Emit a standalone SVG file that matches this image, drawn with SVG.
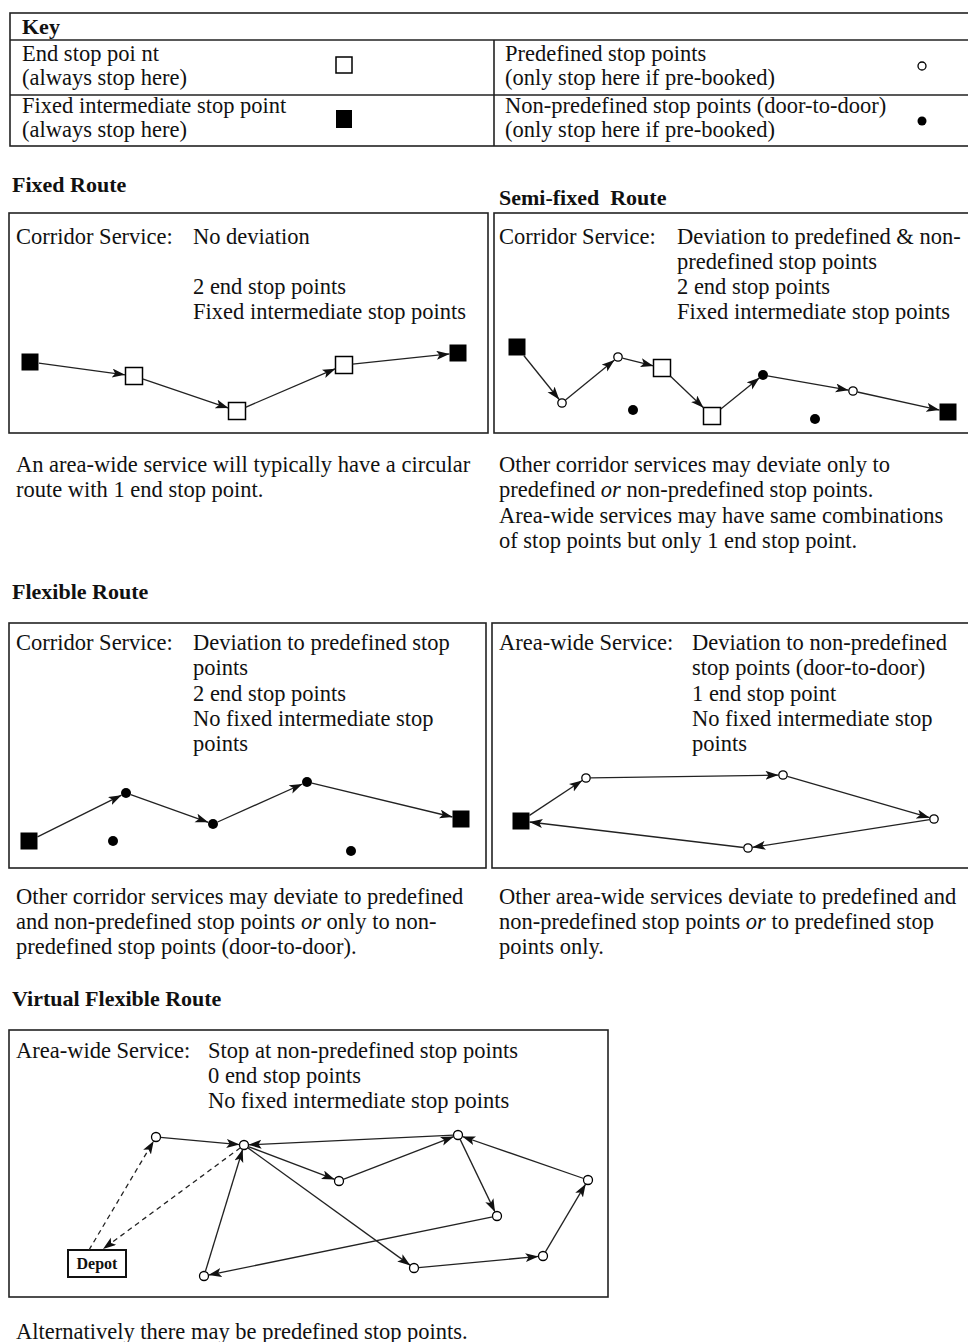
<svg xmlns="http://www.w3.org/2000/svg" width="968" height="1342" viewBox="0 0 968 1342">
<style>
text{font-family:"Liberation Serif","Times New Roman",serif;font-size:22.5px;fill:#111}
.b{font-weight:bold;font-size:22px}
.i{font-style:italic}
.box{fill:none;stroke:#222;stroke-width:1.6}
.e{stroke:#222;stroke-width:1.3;fill:none}
.d{stroke:#222;stroke-width:1.3;fill:none;stroke-dasharray:5 4}
.fs{fill:#000}
.os{fill:#fff;stroke:#000;stroke-width:1.5}
.oc{fill:#fff;stroke:#000;stroke-width:1.3}
.fc{fill:#000}
</style>
<defs>
<marker id="ah" markerUnits="userSpaceOnUse" markerWidth="14" markerHeight="10" refX="13" refY="4.5" orient="auto">
<path d="M0,0 L13,4.5 L0,9 L3,4.5 z" fill="#111"/>
</marker>
</defs>
<rect width="968" height="1342" fill="#fff"/>

<g id="key">
<rect class="box" x="10" y="13" width="970" height="133"/>
<line class="box" x1="10" y1="40" x2="968" y2="40"/>
<line class="box" x1="10" y1="95" x2="968" y2="95"/>
<line class="box" x1="494" y1="40" x2="494" y2="146"/>
<text class="b" x="22" y="34">Key</text>
<text x="22" y="61">End stop poi nt</text>
<text x="22" y="85">(always stop here)</text>
<rect class="os" x="336" y="57" width="16" height="16"/>
<text x="22" y="113">Fixed intermediate stop point</text>
<text x="22" y="137">(always stop here)</text>
<rect class="fs" x="336" y="110" width="16" height="18"/>
<text x="505" y="61">Predefined stop points</text>
<text x="505" y="85">(only stop here if pre-booked)</text>
<circle class="oc" cx="922" cy="66" r="4"/>
<text x="505" y="113">Non-predefined stop points (door-to-door)</text>
<text x="505" y="137">(only stop here if pre-booked)</text>
<circle class="fc" cx="922" cy="121" r="4.5"/>
</g>

<g id="fixed-route">
<text class="b" x="12" y="192">Fixed Route</text>
<rect class="box" x="9" y="213" width="479" height="220"/>
<text x="16" y="244">Corridor Service:</text>
<text x="193" y="244">No deviation</text>
<text x="193" y="294">2 end stop points</text>
<text x="193" y="319">Fixed intermediate stop points</text>
<rect class="fs" x="21.5" y="353.5" width="17" height="17"/>
<rect class="os" x="125.5" y="367.5" width="17" height="17"/>
<rect class="os" x="228.5" y="402.5" width="17" height="17"/>
<rect class="os" x="335.5" y="356.5" width="17" height="17"/>
<rect class="fs" x="449.5" y="344.5" width="17" height="17"/>
</g>

<g id="semi-fixed-route">
<text class="b" x="499" y="205" style="white-space:pre">Semi-fixed  Route</text>
<rect class="box" x="494" y="213" width="480" height="220"/>
<text x="499" y="244">Corridor Service:</text>
<text x="677" y="244">Deviation to predefined &amp; non-</text>
<text x="677" y="269">predefined stop points</text>
<text x="677" y="294">2 end stop points</text>
<text x="677" y="319">Fixed intermediate stop points</text>
<rect class="fs" x="508.5" y="338.5" width="17" height="17"/>
<circle class="oc" cx="562" cy="403" r="4.2"/>
<circle class="oc" cx="618" cy="357" r="4.2"/>
<rect class="os" x="653.5" y="359.5" width="17" height="17"/>
<rect class="os" x="703.5" y="407.5" width="17" height="17"/>
<circle class="fc" cx="763" cy="375" r="5"/>
<circle class="oc" cx="853" cy="391" r="4.2"/>
<rect class="fs" x="939.5" y="403.5" width="17" height="17"/>
<circle class="fc" cx="633" cy="410" r="5"/>
<circle class="fc" cx="815" cy="419" r="5"/>
</g>

<g id="notes-1">
<text x="16" y="472">An area-wide service will typically have a circular</text>
<text x="16" y="497">route with 1 end stop point.</text>
<text x="499" y="472">Other corridor services may deviate only to</text>
<text x="499" y="497">predefined <tspan class="i">or</tspan> non-predefined stop points.</text>
<text x="499" y="523">Area-wide services may have same combinations</text>
<text x="499" y="548">of stop points but only 1 end stop point.</text>
</g>

<g id="flexible-corridor">
<text class="b" x="12" y="599">Flexible Route</text>
<rect class="box" x="9" y="623" width="477" height="245"/>
<text x="16" y="650">Corridor Service:</text>
<text x="193" y="650">Deviation to predefined stop</text>
<text x="193" y="675">points</text>
<text x="193" y="701">2 end stop points</text>
<text x="193" y="726">No fixed intermediate stop</text>
<text x="193" y="751">points</text>
<rect class="fs" x="20.5" y="832.5" width="17" height="17"/>
<circle class="fc" cx="126" cy="793" r="5"/>
<circle class="fc" cx="213" cy="824" r="5"/>
<circle class="fc" cx="307" cy="782" r="5"/>
<rect class="fs" x="452.5" y="810.5" width="17" height="17"/>
<circle class="fc" cx="113" cy="841" r="5"/>
<circle class="fc" cx="351" cy="851" r="5"/>
</g>

<g id="flexible-area">
<rect class="box" x="492" y="623" width="482" height="245"/>
<text x="499" y="650">Area-wide Service:</text>
<text x="692" y="650">Deviation to non-predefined</text>
<text x="692" y="675">stop points (door-to-door)</text>
<text x="692" y="701">1 end stop point</text>
<text x="692" y="726">No fixed intermediate stop</text>
<text x="692" y="751">points</text>
<rect class="fs" x="512.5" y="812.5" width="17" height="17"/>
<circle class="oc" cx="586" cy="778" r="4.2"/>
<circle class="oc" cx="783" cy="775" r="4.2"/>
<circle class="oc" cx="934" cy="819" r="4.2"/>
<circle class="oc" cx="748" cy="848" r="4.2"/>
</g>

<g id="notes-2">
<text x="16" y="904">Other corridor services may deviate to predefined</text>
<text x="16" y="929">and non-predefined stop points <tspan class="i">or</tspan> only to non-</text>
<text x="16" y="954">predefined stop points (door-to-door).</text>
<text x="499" y="904">Other area-wide services deviate to predefined and</text>
<text x="499" y="929">non-predefined stop points <tspan class="i">or</tspan> to predefined stop</text>
<text x="499" y="954">points only.</text>
</g>

<g id="virtual-flexible">
<text class="b" x="12" y="1006">Virtual Flexible Route</text>
<rect class="box" x="9" y="1030" width="599" height="267"/>
<text x="16" y="1058">Area-wide Service:</text>
<text x="208" y="1058">Stop at non-predefined stop points</text>
<text x="208" y="1083">0 end stop points</text>
<text x="208" y="1108">No fixed intermediate stop points</text>
<circle class="oc" cx="156" cy="1137" r="4.5"/>
<circle class="oc" cx="244" cy="1145" r="4.5"/>
<circle class="oc" cx="458" cy="1135" r="4.5"/>
<circle class="oc" cx="339" cy="1181" r="4.5"/>
<circle class="oc" cx="497" cy="1216" r="4.5"/>
<circle class="oc" cx="588" cy="1180" r="4.5"/>
<circle class="oc" cx="543" cy="1256" r="4.5"/>
<circle class="oc" cx="414" cy="1268" r="4.5"/>
<circle class="oc" cx="204" cy="1276" r="4.5"/>
</g>
<g id="depot">
<rect x="68" y="1250" width="58" height="27" fill="#fff" stroke="#111" stroke-width="2"/>
<text class="b" x="97" y="1269" text-anchor="middle" style="font-size:16px">Depot</text>
</g>

<g id="note-3">
<text x="16" y="1339">Alternatively there may be predefined stop points.</text>
</g>

<g id="connectors">
<line class="e" x1="38.9" y1="363.2" x2="125.1" y2="374.8" marker-end="url(#ah)"/>
<line class="e" x1="142.5" y1="378.9" x2="228.5" y2="408.1" marker-end="url(#ah)"/>
<line class="e" x1="245.5" y1="407.3" x2="335.5" y2="368.7" marker-end="url(#ah)"/>
<line class="e" x1="352.5" y1="364.1" x2="449.5" y2="353.9" marker-end="url(#ah)"/>

<line class="e" x1="523.8" y1="355.5" x2="559.2" y2="399.5" marker-end="url(#ah)"/>
<line class="e" x1="565.5" y1="400.1" x2="614.5" y2="359.9" marker-end="url(#ah)"/>
<line class="e" x1="622.4" y1="358.1" x2="653.5" y2="365.9" marker-end="url(#ah)"/>
<line class="e" x1="670.5" y1="376.2" x2="703.5" y2="407.8" marker-end="url(#ah)"/>
<line class="e" x1="720.5" y1="409.2" x2="759.5" y2="377.8" marker-end="url(#ah)"/>
<line class="e" x1="767.4" y1="375.8" x2="848.6" y2="390.2" marker-end="url(#ah)"/>
<line class="e" x1="857.4" y1="392" x2="939.5" y2="410.1" marker-end="url(#ah)"/>

<line class="e" x1="37.5" y1="836.8" x2="121.5" y2="795.2" marker-end="url(#ah)"/>
<line class="e" x1="130.7" y1="794.7" x2="208.3" y2="822.3" marker-end="url(#ah)"/>
<line class="e" x1="217.6" y1="822" x2="302.4" y2="784" marker-end="url(#ah)"/>
<line class="e" x1="311.9" y1="783.2" x2="452.5" y2="817" marker-end="url(#ah)"/>

<line class="e" x1="529.5" y1="815.4" x2="582.2" y2="780.5" marker-end="url(#ah)"/>
<line class="e" x1="590.5" y1="777.9" x2="778.5" y2="775.1" marker-end="url(#ah)"/>
<line class="e" x1="787.3" y1="776.3" x2="929.7" y2="817.7" marker-end="url(#ah)"/>
<line class="e" x1="929.6" y1="819.7" x2="752.4" y2="847.3" marker-end="url(#ah)"/>
<line class="e" x1="743.5" y1="847.5" x2="529.5" y2="822" marker-end="url(#ah)"/>

<line class="e" x1="160.5" y1="1137.4" x2="239.5" y2="1144.6" marker-end="url(#ah)"/>
<line class="e" x1="453.5" y1="1135.2" x2="248.5" y2="1144.8" marker-end="url(#ah)"/>
<line class="e" x1="248.2" y1="1146.6" x2="334.8" y2="1179.4" marker-end="url(#ah)"/>
<line class="e" x1="343.2" y1="1179.4" x2="453.8" y2="1136.6" marker-end="url(#ah)"/>
<line class="e" x1="460" y1="1139.1" x2="495" y2="1211.9" marker-end="url(#ah)"/>
<line class="e" x1="583.7" y1="1178.5" x2="462.3" y2="1136.5" marker-end="url(#ah)"/>
<line class="e" x1="545.3" y1="1252.1" x2="585.7" y2="1183.9" marker-end="url(#ah)"/>
<line class="e" x1="418.5" y1="1267.6" x2="538.5" y2="1256.4" marker-end="url(#ah)"/>
<line class="e" x1="247.6" y1="1147.6" x2="410.4" y2="1265.4" marker-end="url(#ah)"/>
<line class="e" x1="492.6" y1="1216.9" x2="208.4" y2="1275.1" marker-end="url(#ah)"/>
<line class="e" x1="205.3" y1="1271.7" x2="242.7" y2="1149.3" marker-end="url(#ah)"/>
<line class="d" x1="89" y1="1250" x2="153.7" y2="1140.9" marker-end="url(#ah)"/>
<line class="d" x1="240.4" y1="1147.7" x2="103" y2="1249" marker-end="url(#ah)"/>
</g>
</svg>
